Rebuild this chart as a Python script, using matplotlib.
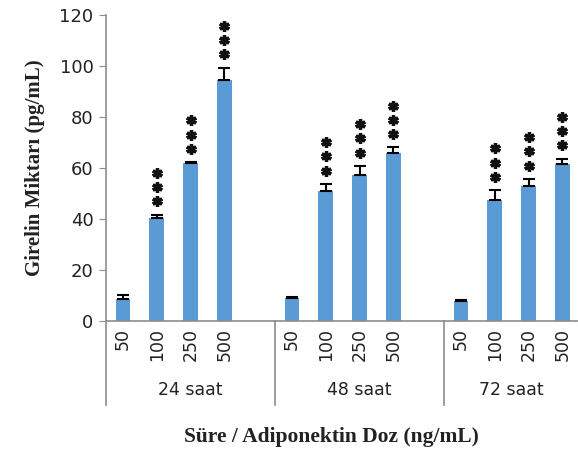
import numpy as np
import matplotlib
matplotlib.use('Agg')
import matplotlib.pyplot as plt
import matplotlib.transforms as mtransforms

# data
groups = ['24 saat', '48 saat', '72 saat']
doses = ['50', '100', '250', '500']
values_24 = [8.8, 40.5, 62.0, 94.6]
values_48 = [8.9, 50.9, 57.4, 65.9]
values_72 = [7.8, 47.3, 53.1, 61.7]
errors_24 = [1.3, 1.2, 0.4, 4.8]
errors_48 = [0.5, 2.9, 3.5, 2.2]
errors_72 = [0.4, 4.1, 2.7, 2.0]
stars_24 = [0, 3, 3, 3]
stars_48 = [0, 3, 3, 3]
stars_72 = [0, 3, 3, 3]

values = [values_24, values_48, values_72]
errors = [errors_24, errors_48, errors_72]
stars = [stars_24, stars_48, stars_72]

bar_color = '#5B9BD5'
axis_color = '#8C8C8C'
slots = 5  # 4 doses + one empty slot per group

fig = plt.figure(figsize=(5.78, 4.54), dpi=100)
ax = fig.add_axes([106 / 578, 1 - 321 / 454, 1 - 106 / 578, (321 - 15) / 454])

xpos, xlab = [], []
for g in range(len(groups)):
    x = np.arange(len(doses)) + g * slots
    yerr = [np.zeros(len(doses)), errors[g]]
    ax.bar(x, values[g], width=0.43, color=bar_color, zorder=2)
    ax.errorbar(x, values[g], yerr=yerr, fmt='none', ecolor='black',
                elinewidth=1.5, capsize=4.5, capthick=1.5, zorder=3)
    for i in range(len(doses)):
        for k in range(stars[g][i]):
            # stacked asterisks above the error bar, offset in points
            off = mtransforms.ScaledTranslation(0, (9.5 + 10.2 * k) / 72, fig.dpi_scale_trans)
            ax.plot(x[i], values[g][i] + errors[g][i], marker=(6, 2, 0), ms=7.5,
                    mew=2.4, color='#111111', transform=ax.transData + off,
                    clip_on=False, zorder=4)
    xpos.extend(x)
    xlab.extend(doses)

xmax = -0.5 + (578 - 106) / 33.8
ax.set_xlim(-0.5, xmax)
ax.set_ylim(0, 120)
ax.set_yticks(np.arange(0, 121, 20))
ax.set_xticks(xpos)
ax.set_xticklabels(xlab, rotation=90, fontsize=12.5, color='#222222')
ax.tick_params(axis='x', length=0, pad=5)
ax.tick_params(axis='y', length=5, labelsize=13, pad=4, colors=axis_color, labelcolor='#222222')

for s in ['top', 'right']:
    ax.spines[s].set_visible(False)
for s in ['left', 'bottom']:
    ax.spines[s].set_color(axis_color)
    ax.spines[s].set_linewidth(1.2)

# group separators and labels below the axis
trans = mtransforms.blended_transform_factory(ax.transData, ax.transAxes)
line_bottom = -(405 - 321) / 306
for g in range(len(groups)):
    left = g * slots - 0.5
    ax.plot([left, left], [0, line_bottom], transform=trans, color=axis_color,
            lw=1.2, clip_on=False)
    right = min(left + slots, xmax)
    ax.text((left + right) / 2, -(390 - 321) / 306, groups[g], transform=trans,
            ha='center', va='center', fontsize=12.5, color='#222222')

ax.set_ylabel('Girelin Miktarı (pg/mL)', family='Liberation Serif', fontweight='bold',
              fontsize=15, color='#222222', labelpad=10)
fig.text((159 + 504) / 2 / 578, 1 - 437 / 454, 'Süre / Adiponektin Doz (ng/mL)',
         family='Liberation Serif', fontweight='bold', fontsize=15.5,
         ha='center', va='center', color='#222222')

fig.savefig('out.png', dpi=100)
